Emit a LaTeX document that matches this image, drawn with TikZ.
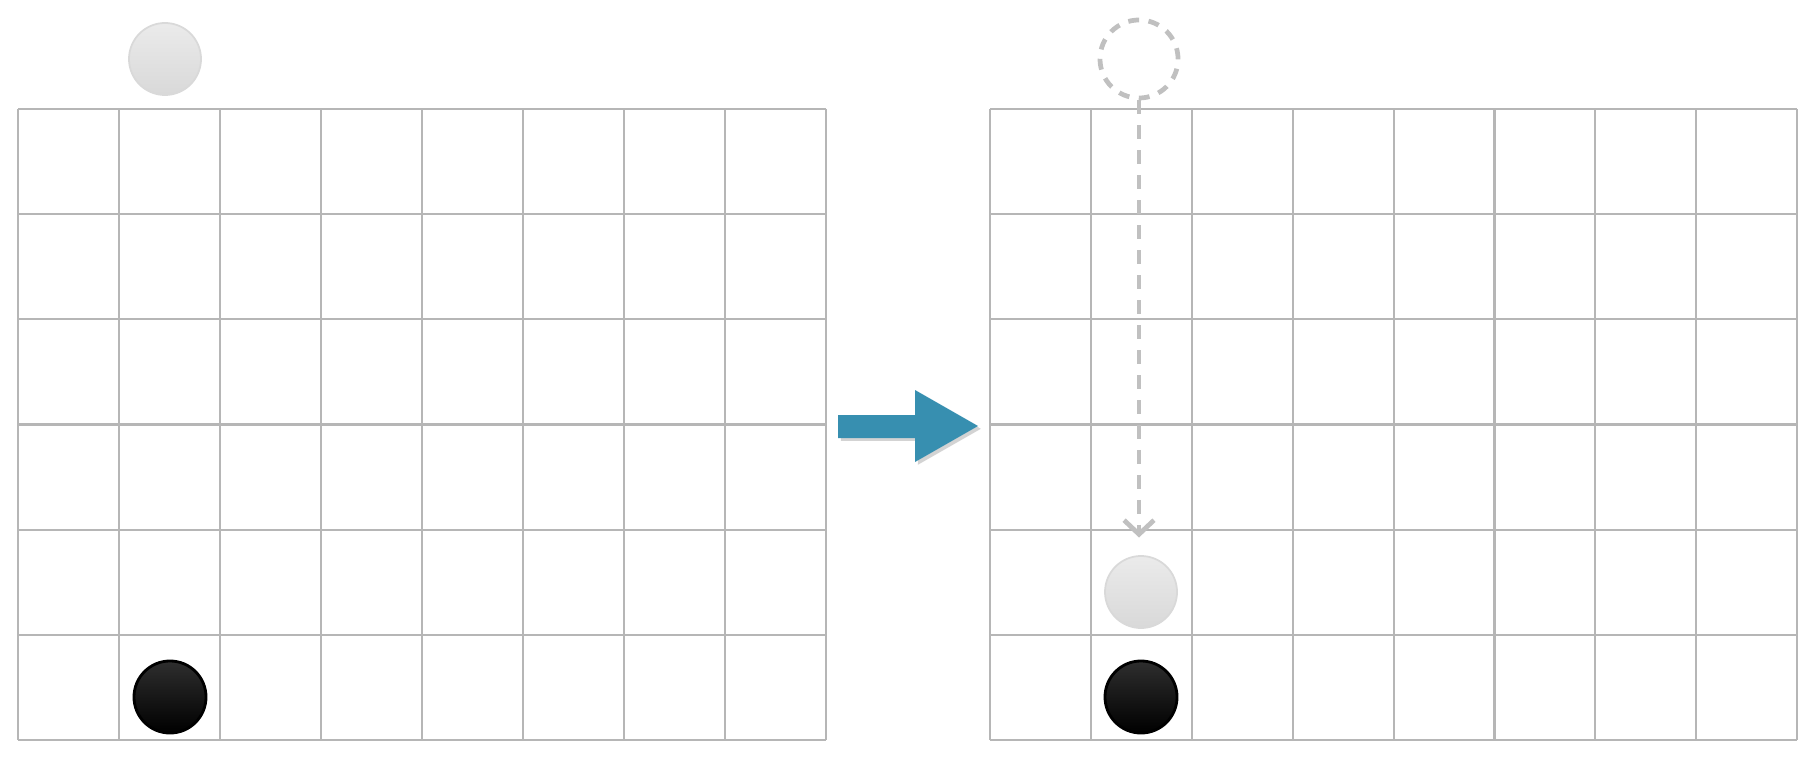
\documentclass[tikz,border=0pt]{standalone}
\usetikzlibrary{arrows.meta,shadows}
\definecolor{gridgray}{RGB}{182,182,182}
\definecolor{teal}{RGB}{55,143,176}
\definecolor{ghostgray}{RGB}{192,192,192}
\tikzset{
  gridline/.style={draw=gridgray, line width=0.6pt},
  whitedisc/.style={circle, inner sep=0pt, minimum size=0.72cm, draw=black!15, line width=0.5pt,
     top color=black!8, middle color=black!13, bottom color=black!15},
  blackdisc/.style={circle, inner sep=0pt, minimum size=0.72cm, draw=black, line width=0.8pt,
     top color=black!82, middle color=black!97, bottom color=black},
  ghost/.style={circle, inner sep=0pt, minimum size=0.78cm, draw=ghostgray, line width=1.35pt,
     dash pattern=on 3.1pt off 2.7pt},
  droparrow/.style={draw=ghostgray, line width=1.35pt, dash pattern=on 4pt off 3.1pt,
     -{Straight Barb[length=4pt,width=8.5pt,line width=1.35pt]}},
  bigarrow/.style={fill=teal, drop shadow={shadow xshift=0.8pt, shadow yshift=-0.8pt, opacity=0.35}}
}
\begin{document}
\begin{tikzpicture}[x=0.01cm, y=-0.01cm]
\useasboundingbox (0,0) rectangle (1807,761);
% left grid
\foreach \i in {0,...,8} {
  \draw[gridline] ({18+\i*101},109) -- ({18+\i*101},740);
}
\foreach \j in {0,...,6} {
  \draw[gridline] (18,{109+\j*105.17}) -- (826,{109+\j*105.17});
}
% right grid
\foreach \i in {0,...,8} {
  \draw[gridline] ({990+\i*100.9},109) -- ({990+\i*100.9},740);
}
\foreach \j in {0,...,6} {
  \draw[gridline] (990,{109+\j*105.17}) -- (1797,{109+\j*105.17});
}
% discs left
\node[whitedisc] (w1) at (165,59) {};
\node[blackdisc] (b1) at (170,697) {};
% big arrow
\path[bigarrow] (838,415) -- (915,415) -- (915,390) -- (978,426) -- (915,462) -- (915,438) -- (838,438) -- cycle;
% right side
\node[ghost] (g2) at (1139,59) {};
\node[whitedisc] (w2) at (1141,592) {};
\node[blackdisc] (b2) at (1141,697) {};
\draw[droparrow, shorten >=5pt] (g2.south) -- (g2.south |- w2.north);
\end{tikzpicture}
\end{document}
